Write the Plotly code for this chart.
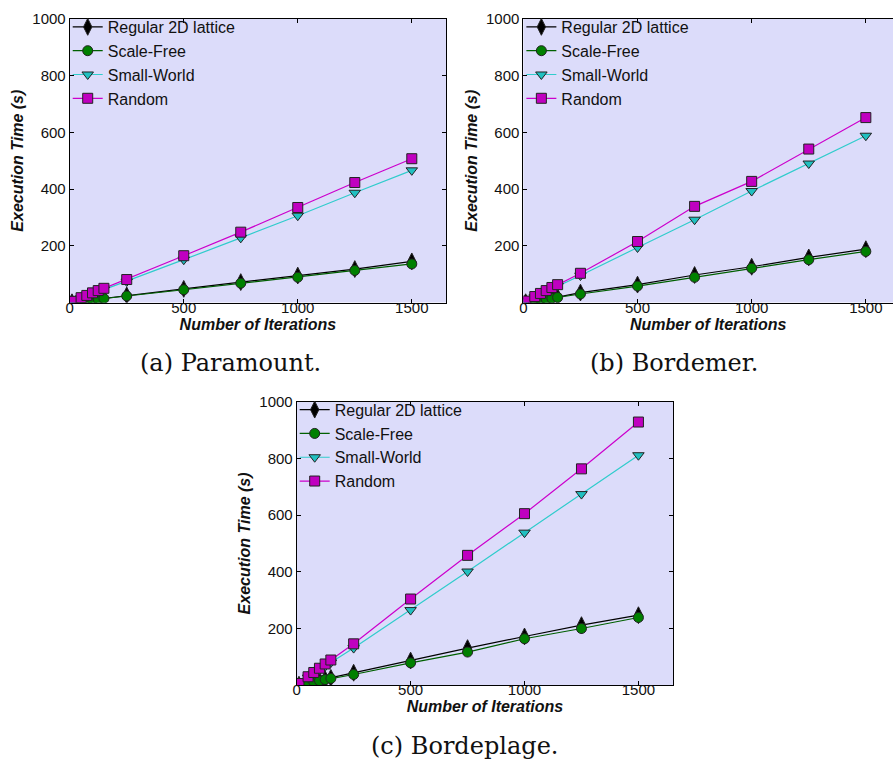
import plotly.graph_objects as go

iterations = [10, 50, 75, 100, 125, 150, 250, 500, 750, 1000, 1250, 1500]

reg_a = [1, 5, 8, 10, 13, 15, 25, 48, 72, 95, 118, 145]
sf_a = [1, 5, 7, 9, 12, 14, 23, 45, 68, 89, 113, 136]
sw_a = [3, 15, 23, 31, 38, 46, 74, 151, 228, 306, 387, 466]
rnd_a = [4, 17, 25, 34, 42, 50, 81, 165, 248, 335, 423, 507]

reg_b = [1, 6, 9, 12, 16, 19, 35, 63, 97, 126, 159, 188]
sf_b = [1, 6, 9, 12, 15, 18, 30, 58, 89, 121, 151, 180]
sw_b = [4, 19, 29, 39, 49, 58, 95, 194, 292, 393, 490, 588]
rnd_b = [5, 21, 32, 42, 53, 63, 103, 215, 339, 427, 541, 652]

reg_c = [2, 9, 13, 17, 21, 26, 44, 87, 131, 172, 212, 247]
sf_c = [2, 8, 12, 16, 20, 24, 38, 79, 117, 164, 200, 239]
sw_c = [5, 27, 40, 54, 67, 80, 131, 265, 401, 538, 674, 811]
rnd_c = [6, 30, 45, 60, 75, 89, 146, 304, 458, 605, 763, 928]

series_names = ["Regular 2D lattice", "Scale-Free", "Small-World", "Random"]
captions = ["(a) Paramount.", "(b) Bordemer.", "(c) Bordeplage."]
x_ticks = [0, 500, 1000, 1500]
y_ticks = [200, 400, 600, 800, 1000]

W, H = 893, 765
panels = [
    dict(data=[reg_a, sf_a, sw_a, rnd_a], px=(66, 444), py=(10, 297), xmax=1650, mirror_right=True),
    dict(data=[reg_b, sf_b, sw_b, rnd_b], px=(521.7, 893), py=(10, 297), xmax=1619, mirror_right=False),
    dict(data=[reg_c, sf_c, sw_c, rnd_c], px=(294, 672.3), py=(397.3, 684.3), xmax=1653, mirror_right=True),
]

styles = [
    dict(symbol="diamond-tall", size=12, color="#000000", line="#000000"),
    dict(symbol="circle", size=10, color="#008000", line="#006000"),
    dict(symbol="triangle-down", size=10, color="#20C0C0", line="#30CCCC"),
    dict(symbol="square", size=10, color="#C000C0", line="#CC00CC"),
]

fig = go.Figure()
font_sans = "Liberation Sans, Arial, sans-serif"

for i, p in enumerate(panels):
    xa = "x" if i == 0 else f"x{i+1}"
    ya = "y" if i == 0 else f"y{i+1}"
    lg = "legend" if i == 0 else f"legend{i+1}"
    for k, (vals, st) in enumerate(zip(p["data"], styles)):
        fig.add_trace(go.Scatter(
            x=iterations, y=vals, name=series_names[k], mode="lines+markers",
            xaxis=xa, yaxis=ya, legend=lg,
            line=dict(color=st["line"], width=1.2),
            marker=dict(symbol=st["symbol"], size=st["size"], color=st["color"],
                        line=dict(color="#222222", width=1)),
        ))
    x0, x1 = p["px"]
    y0, y1 = p["py"]
    xd = [x0 / W, min(x1 / W, 1.0)]
    yd = [1 - y1 / H, 1 - y0 / H]
    xkey = "xaxis" if i == 0 else f"xaxis{i+1}"
    ykey = "yaxis" if i == 0 else f"yaxis{i+1}"
    fig.update_layout(**{
        xkey: dict(domain=xd, range=[0, p["xmax"]], anchor=ya, tickvals=x_ticks,
                   ticks="inside", ticklen=4, tickcolor="#000", showline=True,
                   linecolor="#000", linewidth=1, mirror="allticks", showgrid=False,
                   zeroline=False, ticklabelstandoff=-9,
                   tickfont=dict(family=font_sans, size=15, color="#111"),
                   title=dict(text="<b><i>Number of Iterations</i></b>", standoff=0,
                              font=dict(family=font_sans, size=16, color="#111"))),
        ykey: dict(domain=yd, range=[0, 1000], anchor=xa, tickvals=y_ticks,
                   ticks="inside", ticklen=4, tickcolor="#000", showline=True,
                   linecolor="#000", linewidth=1,
                   mirror="allticks" if p["mirror_right"] else False,
                   showgrid=False, zeroline=False,
                   tickfont=dict(family=font_sans, size=15, color="#111"),
                   title=dict(text="<b><i>Execution Time (s)</i></b>", standoff=4,
                              font=dict(family=font_sans, size=16, color="#111"))),
        lg: dict(x=(x0 - 2) / W, y=1 - (y0 - 9) / H, xanchor="left", yanchor="top",
                 bgcolor="rgba(0,0,0,0)", borderwidth=0, itemwidth=30, tracegroupgap=0,
                 font=dict(family=font_sans, size=16, color="#111")),
    })
    fig.add_shape(type="rect", xref="paper", yref="paper", x0=xd[0], x1=xd[1],
                  y0=yd[0], y1=yd[1], fillcolor="#DCDCFA", line=dict(width=0), layer="below")

cap_pos = [(228, 358), (673, 358), (463, 746)]
for (cx, cy), txt in zip(cap_pos, captions):
    fig.add_annotation(text=txt, xref="paper", yref="paper", x=cx / W, y=1 - cy / H,
                       xanchor="center", yanchor="middle", showarrow=False,
                       font=dict(family="DejaVu Serif, serif", size=24, color="#111"))

fig.update_layout(width=W, height=H, margin=dict(l=0, r=0, t=0, b=0),
                  paper_bgcolor="white", plot_bgcolor="rgba(0,0,0,0)")

fig.write_html("out.html")
